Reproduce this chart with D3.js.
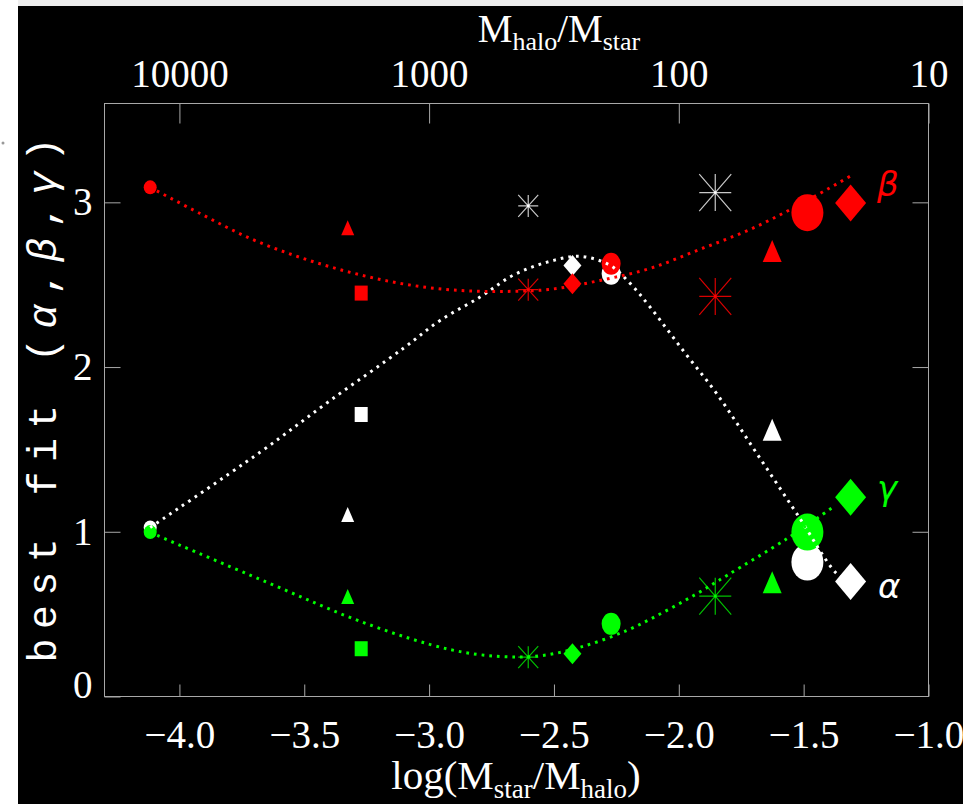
<!DOCTYPE html>
<meta charset="utf-8">
<script src="https://d3js.org/d3.v7.min.js"></script>
<style>
  body { margin: 0; background: #fff; }
  svg { display: block; }
</style>
<svg id="chart" width="963" height="804"></svg>
<script>

// Samples: x = log(Mstar/Mhalo), best-fit alpha/beta/gamma per sample
var logMstarMhalo = [-4.117, -3.326, -3.272, -2.603, -2.426, -2.271, -1.854, -1.626, -1.485, -1.312];
var sampleShape   = ["circle", "triangle", "square", "asterisk", "diamond", "circle", "asterisk", "triangle", "circle", "diamond"];
var alphaFit = [1.026, 1.105, 1.712, 2.978, 2.617, 2.567, 3.059, 1.620, 0.816, 0.698];
var betaFit  = [3.091, 2.846, 2.449, 2.470, 2.506, 2.627, 2.429, 2.704, 2.937, 2.996];
var gammaFit = [0.998, 0.607, 0.290, 0.239, 0.259, 0.441, 0.609, 0.694, 0.998, 1.210];

// dotted trend curves
var alphaCurveX = [-4.117, -3.676, -3.396, -3.104, -2.956, -2.796, -2.664, -2.527, -2.395, -2.275, -2.195, -2.115, -1.983, -1.848, -1.687, -1.527, -1.367, -1.322];
var alphaCurveY = [1.026, 1.484, 1.797, 2.113, 2.283, 2.425, 2.557, 2.637, 2.672, 2.617, 2.508, 2.364, 2.101, 1.838, 1.474, 1.109, 0.745, 0.704];
var betaCurveX = [-4.117, -3.917, -3.717, -3.517, -3.316, -3.116, -2.916, -2.716, -2.515, -2.315, -2.115, -1.915, -1.714, -1.514, -1.314];
var betaCurveY = [3.091, 2.932, 2.781, 2.666, 2.575, 2.508, 2.469, 2.459, 2.472, 2.526, 2.599, 2.715, 2.836, 2.988, 3.158];
var gammaCurveX = [-4.117, -3.650, -3.249, -2.916, -2.715, -2.555, -2.395, -2.208, -2.061, -1.928, -1.807, -1.567, -1.382];
var gammaCurveY = [0.996, 0.694, 0.441, 0.285, 0.243, 0.247, 0.299, 0.401, 0.512, 0.624, 0.735, 0.958, 1.150];

var xTicks = [-4.0, -3.5, -3.0, -2.5, -2.0, -1.5, -1.0];
var yTicks = [0, 1, 2, 3];
var topTicks = [10000, 1000, 100, 10];

// marker sizes (w, h) per sample
var markerSize = [[13,14],[13,15],[13,15],[20,22],[18,21],[19,22],[32,37],[19,22],[32,37],[31,37]];

var svg = d3.select("#chart");

// screenshot border
svg.append("rect").attr("x", 0).attr("y", 0).attr("width", 963).attr("height", 804).attr("fill", "#fff");
svg.append("rect").attr("x", 18).attr("y", 6).attr("width", 945).attr("height", 798).attr("fill", "#000");
svg.append("rect").attr("x", 18).attr("y", 0).attr("width", 945).attr("height", 6).attr("fill", "#eeeeee");
svg.append("circle").attr("cx", 3).attr("cy", 143).attr("r", 1.5).attr("fill", "#999");

var pLeft = 104.5, pRight = 928.5, pTop = 103.5, pBottom = 696.5;

var x = d3.scaleLinear().domain([-4.3, -1.0]).range([pLeft, pRight]);
var y = d3.scaleLinear().domain([0, 3.6]).range([pBottom, pTop]);
var xTop = d3.scaleLog().domain([Math.pow(10, 4.3), 10]).range([pLeft, pRight]);

var frameColor = "#a8a8a8";
var serif = "'Liberation Serif', serif";

svg.append("rect")
    .attr("x", pLeft).attr("y", pTop)
    .attr("width", pRight - pLeft).attr("height", pBottom - pTop)
    .attr("fill", "none").attr("stroke", frameColor).attr("stroke-width", 1);

function styleAxis(g) {
  g.select(".domain").remove();
  g.selectAll(".tick line").attr("stroke", frameColor);
  g.selectAll(".tick text").attr("fill", "#fff").style("font-family", serif).style("font-size", "39px");
}

// bottom axis
svg.append("g")
    .attr("transform", "translate(0," + pBottom + ")")
    .call(d3.axisBottom(x).tickValues(xTicks).tickFormat(d3.format(".1f")).tickSize(-12).tickPadding(24))
    .call(styleAxis);

// top axis
svg.append("g")
    .attr("transform", "translate(0," + pTop + ")")
    .call(d3.axisTop(xTop).tickValues(topTicks).tickFormat(d3.format("d")).tickSize(-20).tickPadding(17))
    .call(styleAxis);

// left axis
var gl = svg.append("g")
    .attr("transform", "translate(" + pLeft + ",0)")
    .call(d3.axisLeft(y).tickValues(yTicks).tickFormat(d3.format("d")).tickSize(-16).tickPadding(12))
    .call(styleAxis);
gl.selectAll(".tick").filter(function(d){ return d === 0; }).select("text").attr("dy", "0.02em");

// right axis
svg.append("g")
    .attr("transform", "translate(" + pRight + ",0)")
    .call(d3.axisRight(y).tickValues([1, 2, 3]).tickFormat("").tickSize(-16))
    .call(styleAxis);

// axis titles
var tt = svg.append("text").attr("x", 559).attr("y", 42).attr("text-anchor", "middle")
    .attr("fill", "#fff").style("font-family", serif).style("font-size", "39px");
tt.append("tspan").text("M");
tt.append("tspan").attr("dy", 8).style("font-size", "26px").text("halo");
tt.append("tspan").attr("dy", -8).text("/M");
tt.append("tspan").attr("dy", 8).style("font-size", "26px").text("star");

var bt = svg.append("text").attr("x", 516).attr("y", 789).attr("text-anchor", "middle")
    .attr("fill", "#fff").style("font-family", serif).style("font-size", "41px");
bt.append("tspan").text("log(M");
bt.append("tspan").attr("dy", 9).style("font-size", "27px").text("star");
bt.append("tspan").attr("dy", -9).text("/M");
bt.append("tspan").attr("dy", 9).style("font-size", "27px").text("halo");
bt.append("tspan").attr("dy", -9).text(")");

var yl = svg.append("text")
    .attr("transform", "translate(56,400) rotate(-90)")
    .attr("text-anchor", "middle")
    .attr("textLength", 525).attr("lengthAdjust", "spacing")
    .attr("fill", "#fff").style("font-family", "'Liberation Mono', monospace").style("font-size", "40px");
yl.append("tspan").text("best fit (");
yl.append("tspan").style("font-style", "italic").text("\u03b1");
yl.append("tspan").text(",");
yl.append("tspan").style("font-style", "italic").text("\u03b2");
yl.append("tspan").text(",");
yl.append("tspan").style("font-style", "italic").text("\u03b3");
yl.append("tspan").text(")");

// markers
var series = [
  { values: alphaFit, color: "#ffffff", star: "#c8c8c8" },
  { values: betaFit,  color: "#ff0000", star: "#d80000" },
  { values: gammaFit, color: "#00ff00", star: "#00c000" }
];

var markers = svg.append("g");
series.forEach(function(s) {
  s.values.forEach(function(v, i) {
    var cx = x(logMstarMhalo[i]), cy = y(v);
    var w = markerSize[i][0], h = markerSize[i][1];
    var shape = sampleShape[i];
    var g = markers.append("g").attr("transform", "translate(" + cx + "," + cy + ")");
    if (shape === "circle") {
      g.append("ellipse").attr("rx", w / 2).attr("ry", h / 2).attr("fill", s.color);
    } else if (shape === "triangle") {
      g.append("path").attr("d", "M0," + (-h / 2) + "L" + (w / 2) + "," + (h / 2) + "L" + (-w / 2) + "," + (h / 2) + "Z").attr("fill", s.color);
    } else if (shape === "square") {
      g.append("rect").attr("x", -w / 2).attr("y", -h / 2).attr("width", w).attr("height", h).attr("fill", s.color);
    } else if (shape === "diamond") {
      g.append("path").attr("d", "M0," + (-h / 2) + "L" + (w / 2) + ",0L0," + (h / 2) + "L" + (-w / 2) + ",0Z").attr("fill", s.color);
    } else if (shape === "asterisk") {
      var d = "M" + (-w / 2) + ",0H" + (w / 2) +
              "M0," + (-h / 2) + "V" + (h / 2) +
              "M" + (-w / 2) + "," + (-h / 2) + "L" + (w / 2) + "," + (h / 2) +
              "M" + (-w / 2) + "," + (h / 2) + "L" + (w / 2) + "," + (-h / 2);
      g.append("path").attr("d", d).attr("fill", "none").attr("stroke", s.star).attr("stroke-width", 1.2);
      g.append("circle").attr("r", 1.4).attr("fill", s.color);
    }
  });
});

// dotted curves
var line = d3.line()
    .x(function(d){ return x(d[0]); })
    .y(function(d){ return y(d[1]); })
    .curve(d3.curveCatmullRom);

var curves = [
  { xs: alphaCurveX, ys: alphaCurveY, color: "#ffffff" },
  { xs: betaCurveX,  ys: betaCurveY,  color: "#ff0000" },
  { xs: gammaCurveX, ys: gammaCurveY, color: "#00ff00" }
];
curves.forEach(function(c) {
  svg.append("path")
      .attr("d", line(c.xs.map(function(v, i){ return [v, c.ys[i]]; })))
      .attr("fill", "none")
      .attr("stroke", c.color)
      .attr("stroke-width", 3)
      .attr("stroke-dasharray", "2.7,5");
});

// greek labels
var greek = [
  { t: "\u03b2", px: 877, py: 196, color: "#ff0000" },
  { t: "\u03b3", px: 877, py: 500, color: "#00ff00" },
  { t: "\u03b1", px: 878, py: 598, color: "#ffffff" }
];
greek.forEach(function(gk) {
  svg.append("text").attr("x", gk.px).attr("y", gk.py)
      .attr("fill", gk.color)
      .style("font-family", "'DejaVu Sans', sans-serif")
      .style("font-style", "italic")
      .style("font-size", "34px")
      .text(gk.t);
});

</script>
